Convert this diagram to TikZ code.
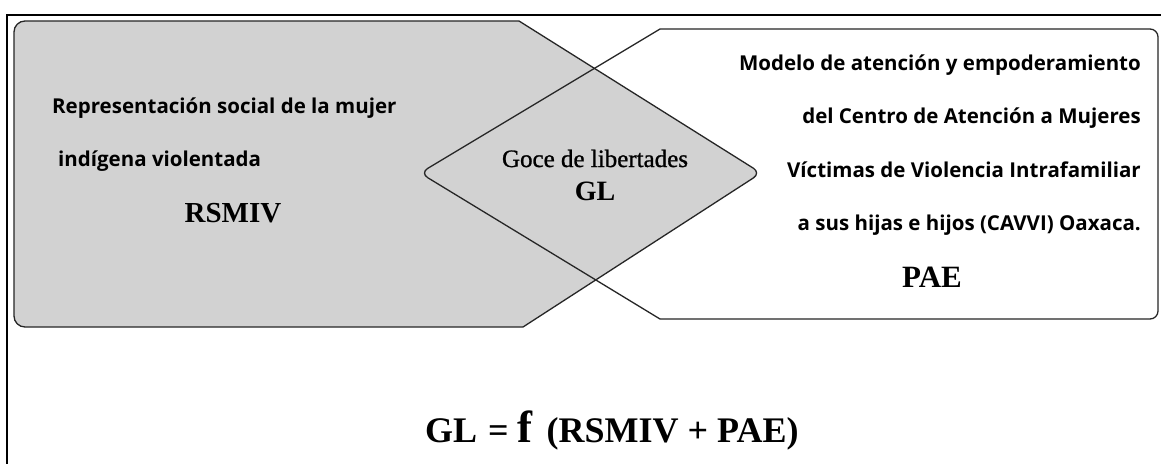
\documentclass[tikz,border=0pt]{standalone}
\usepackage{fontspec}
\setmainfont{Liberation Serif}
\newfontfamily\sansf{Open Sans}
\definecolor{shade}{HTML}{D2D2D2}
\begin{document}
\begin{tikzpicture}[x=1pt,y=-1pt,
  shapeline/.style={line width=1.3pt, draw=black!85},
  sanstext/.style={font=\sansf\bfseries\fontsize{20.5}{25}\selectfont, inner sep=0pt},
  serifbig/.style={font=\bfseries\fontsize{29}{33}\selectfont, inner sep=0pt},
  frameline/.style={line width=2pt, draw=black}]
\path[fill=white] (0,0) rectangle (1161,464);
\useasboundingbox (0,0) rectangle (1161,464);
% outer frame (top and left edges visible)
\draw[frameline] (1161,15) -- (7,15) -- (7,464);
% grey shape
\path[fill=shade, shapeline] (519,21) [rounded corners=9pt] -- (761,173) [sharp corners] -- (523,327) [rounded corners=11pt] -- (14,327) -- (14,21) [sharp corners] -- cycle;
% white shape
\path[shapeline] (660,29) [rounded corners=8pt] -- (1158,29) -- (1158,319) [sharp corners] -- (660,319) [rounded corners=9pt] -- (420,173) [sharp corners] -- cycle;
% texts
\node[sanstext, anchor=base west] (r1) at (52,113) {Representación social de la mujer};
\node[sanstext, anchor=base west] (r2) at (58,166) {indígena violentada};
\node[serifbig, anchor=base] (rs) at (233,222) {RSMIV};
\node[inner sep=0pt, anchor=base, font=\fontsize{25}{28}\selectfont\addfontfeature{FakeBold=1}] (gl1) at (595,167) {Goce de libertades};
\node[inner sep=0pt, anchor=base, font=\bfseries\fontsize{28}{30}\selectfont] (gl2) at (595,200) {GL};
\node[sanstext, anchor=base east] (p1) at (1141,70) {Modelo de atención y empoderamiento};
\node[sanstext, anchor=base east] (p2) at (1141,123) {del Centro de Atención a Mujeres};
\node[sanstext, anchor=base east] (p3) at (1141,177) {Víctimas de Violencia Intrafamiliar};
\node[sanstext, anchor=base east] (p4) at (1141,230) {a sus hijas e hijos (CAVVI) Oaxaca.};
\node[serifbig, font=\bfseries\fontsize{31}{34}\selectfont, anchor=base] (pae) at (932,287) {PAE};
\node[inner sep=0pt, anchor=base west, font=\bfseries\fontsize{36}{40}\selectfont] (eq) at (425,442) {GL\hspace{2pt} = {\fontsize{45}{50}\selectfont f}\hspace{14pt}(RSMIV + PAE)};
\end{tikzpicture}
\end{document}
